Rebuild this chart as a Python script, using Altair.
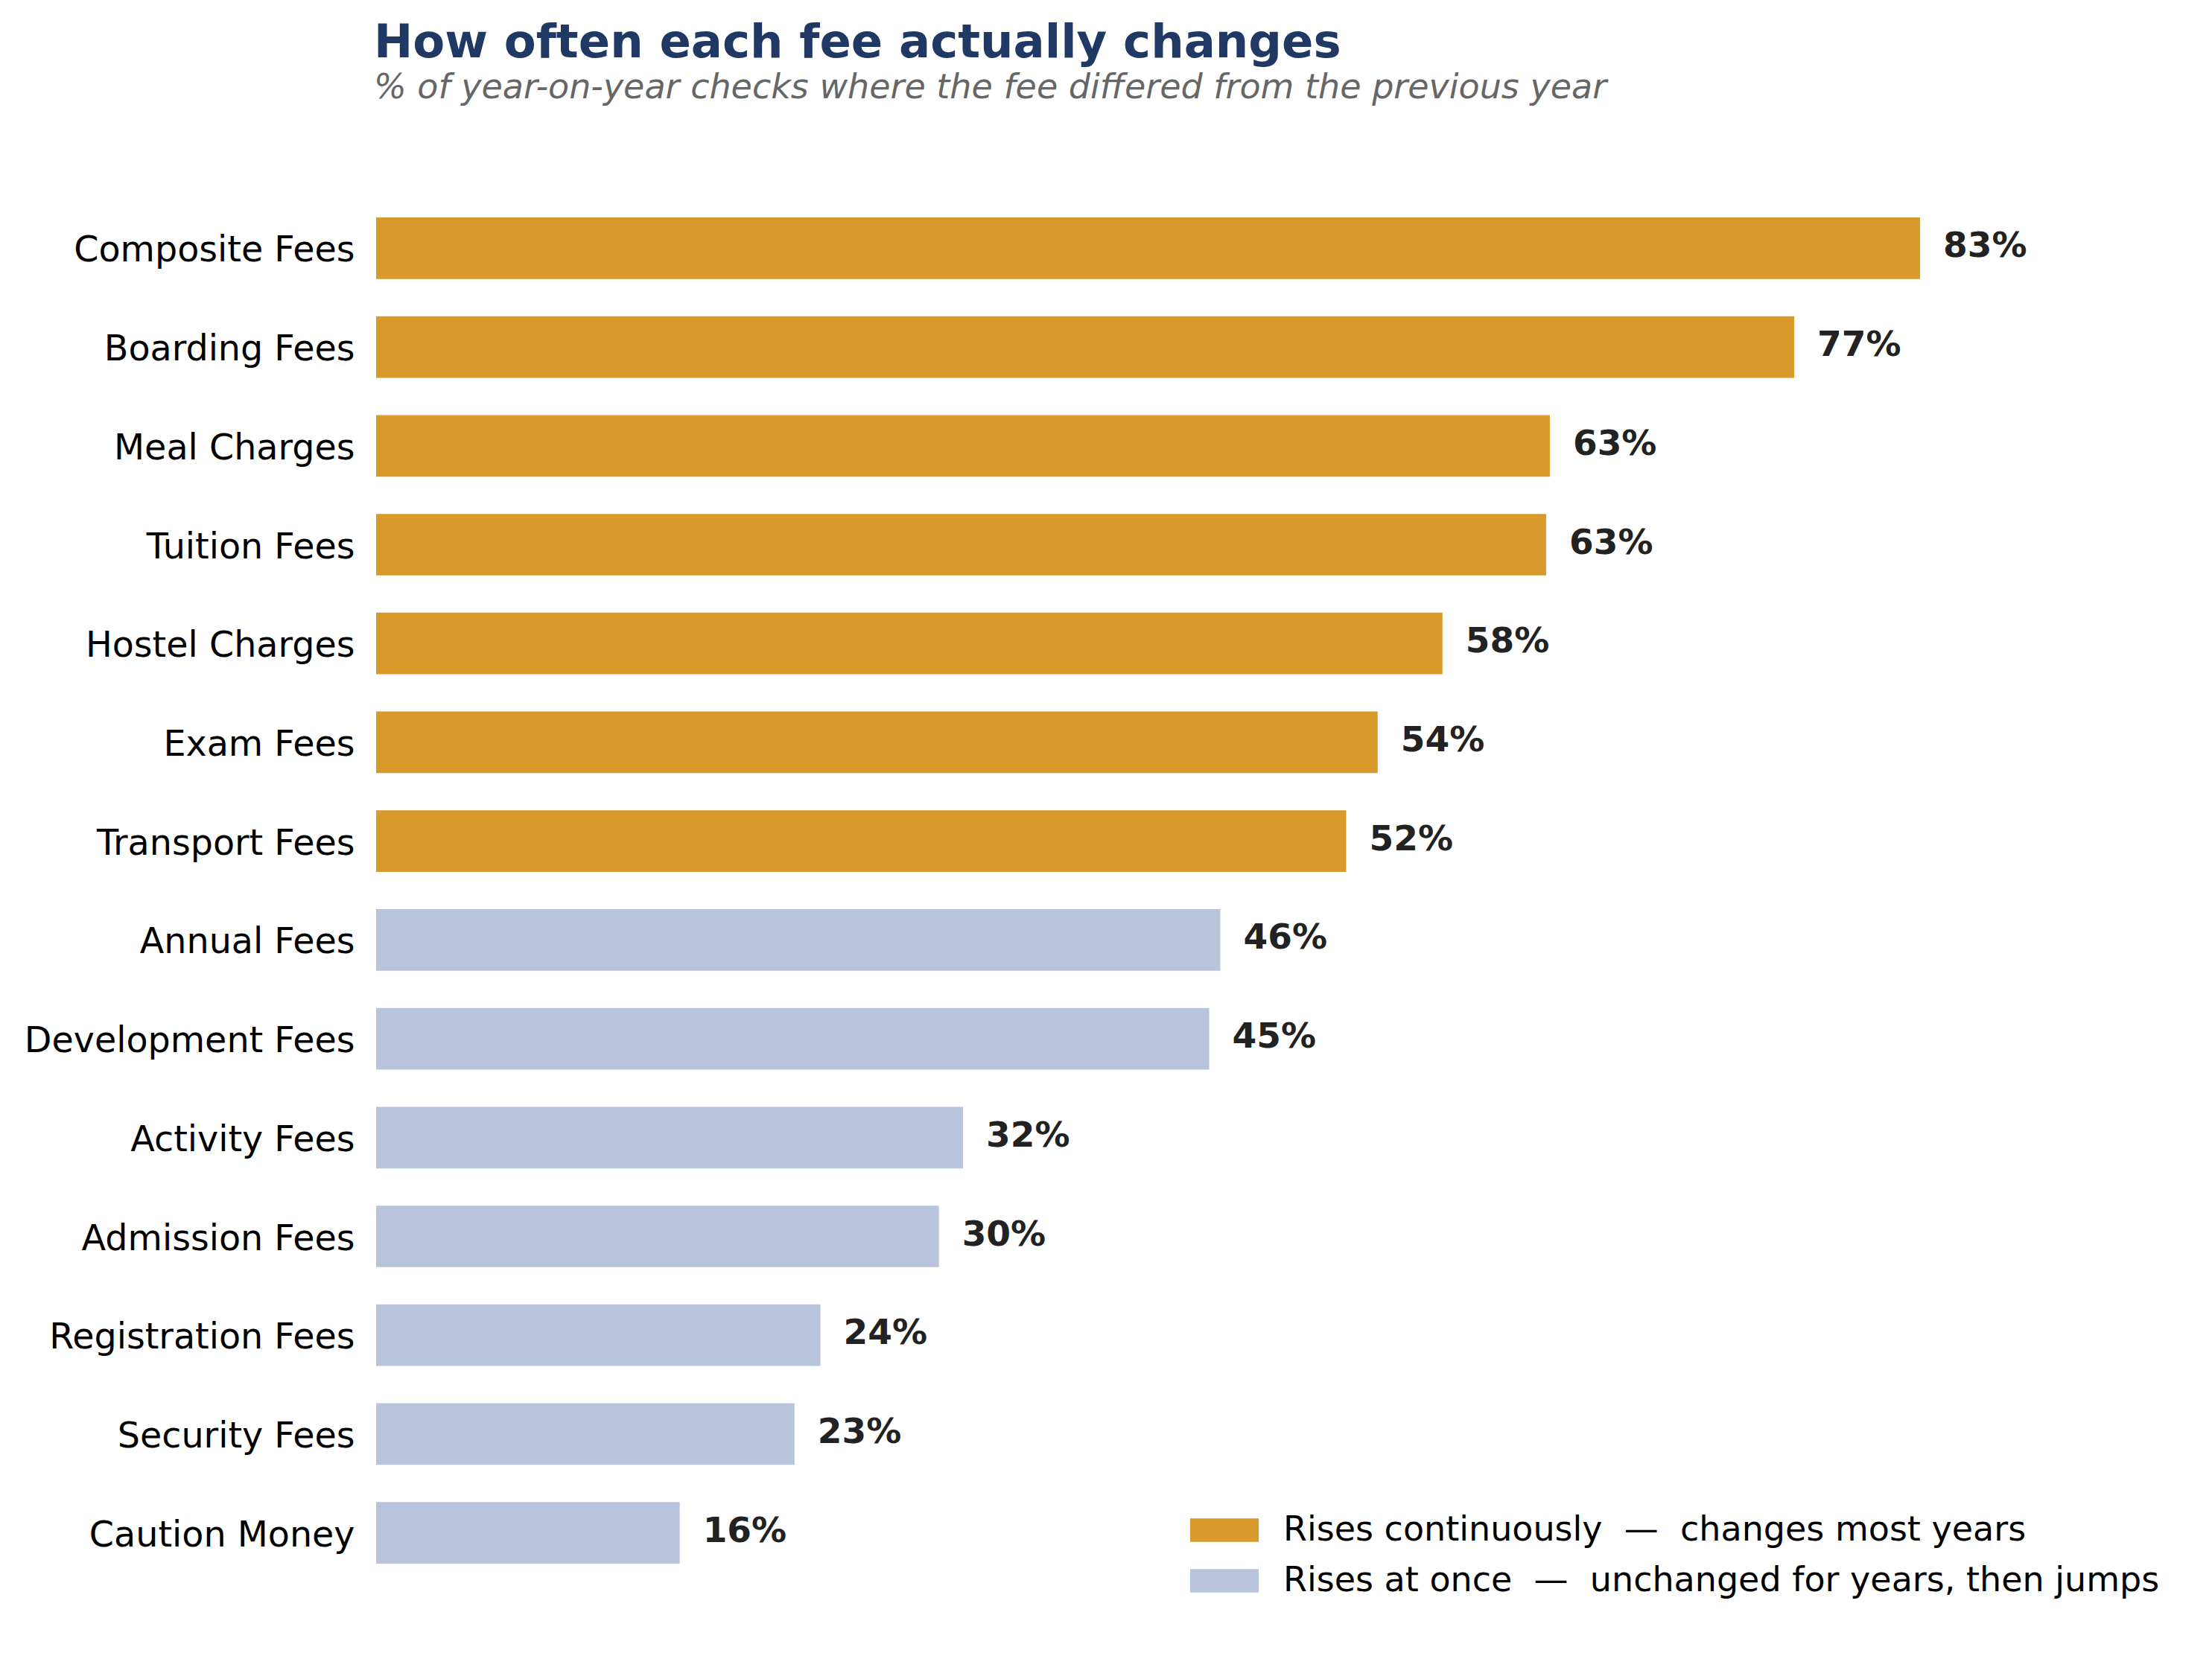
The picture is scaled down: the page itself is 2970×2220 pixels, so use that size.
import altair as alt
import pandas as pd

categories = [
    "Composite Fees", "Boarding Fees", "Meal Charges", "Tuition Fees",
    "Hostel Charges", "Exam Fees", "Transport Fees", "Annual Fees",
    "Development Fees", "Activity Fees", "Admission Fees",
    "Registration Fees", "Security Fees", "Caution Money",
]
values = [83.4, 76.6, 63.4, 63.2, 57.6, 54.1, 52.4, 45.6, 45.0, 31.7, 30.4, 24.0, 22.6, 16.4]
legend_labels = [
    "Rises continuously\u00a0 \u2014\u00a0 changes most years",
    "Rises at once\u00a0 \u2014\u00a0 unchanged for years, then jumps",
]
patterns = [legend_labels[0]] * 7 + [legend_labels[1]] * 7
colors = ["#D99A2B", "#B8C4DC"]

df = pd.DataFrame({"fee": categories, "pct": values, "pattern": patterns})

y = alt.Y(
    "fee:N", sort=categories, title=None,
    scale=alt.Scale(paddingInner=0.377, paddingOuter=0.1885),
    axis=alt.Axis(ticks=False, domain=False, labelFont="DejaVu Sans",
                  labelFontSize=47.6, labelColor="#000000", labelPadding=29,
                  labelOffset=4, labelLimit=0),
)
x = alt.X("pct:Q", scale=alt.Scale(domain=[0, 98], nice=False, zero=True), axis=None)

bars = alt.Chart(df).mark_bar().encode(
    x=x, y=y,
    color=alt.Color(
        "pattern:N",
        scale=alt.Scale(domain=legend_labels, range=colors),
        legend=alt.Legend(
            title=None, orient="none", legendX=1116, legendY=1765,
            symbolType="M-2,-0.69H2V0.69H-2Z", symbolSize=2116,
            symbolStrokeWidth=0, symbolOpacity=1,
            labelFont="DejaVu Sans", labelFontSize=46, labelColor="#000000",
            labelOffset=56, rowPadding=22, padding=0, labelLimit=0,
        ),
    ),
)

text = alt.Chart(df).transform_calculate(
    label="format(datum.pct, '.0f') + '%'"
).mark_text(
    align="left", baseline="middle", dx=31, dy=-2, font="DejaVu Sans",
    fontSize=47, fontWeight="bold", color="#222222",
).encode(x=x, y=y, text="label:N")

chart = (bars + text).properties(
    width=2436, height=1858,
    title=alt.TitleParams(
        text="How often each fee actually changes",
        subtitle="% of year-on-year checks where the fee differed from the previous year",
        anchor="start", frame="group", orient="top", offset=125, dx=-3,
        font="DejaVu Sans", fontSize=62.5, fontWeight="bold", color="#1F3864",
        subtitleFont="DejaVu Sans", subtitleFontSize=46, subtitleFontStyle="italic",
        subtitleColor="#666666", subtitlePadding=6,
    ),
    padding={"left": 497, "top": 259, "right": 21, "bottom": 87},
    autosize="none",
).configure_view(stroke=None)

chart.save("out.html", embed_options={"renderer": "svg", "actions": False})
